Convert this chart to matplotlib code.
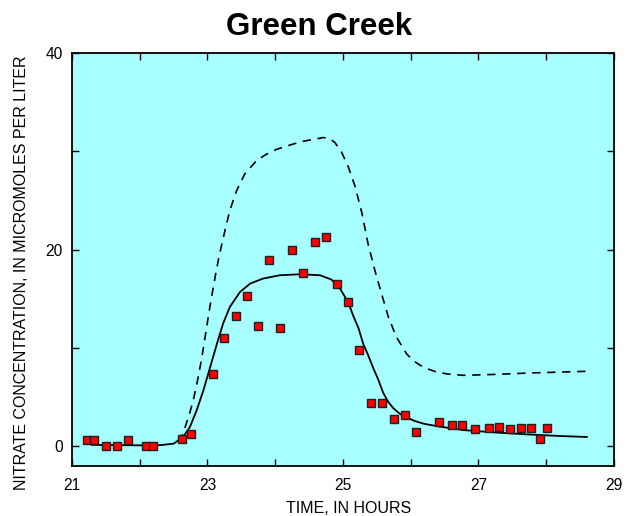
import matplotlib
matplotlib.use("Agg")
import matplotlib.pyplot as plt

plt.rcParams['font.family'] = ['Liberation Sans', 'DejaVu Sans']

# measured nitrate, in micromoles per liter
obs_time = [21.22, 21.33, 21.50, 21.67, 21.83, 22.09, 22.19, 22.62, 22.75,
            23.08, 23.24, 23.42, 23.58, 23.75, 23.91, 24.07, 24.25, 24.41,
            24.58, 24.75, 24.91, 25.08, 25.24, 25.41, 25.58, 25.75, 25.92,
            26.08, 26.42, 26.61, 26.76, 26.95, 27.15, 27.31, 27.46, 27.63,
            27.78, 27.91, 28.01]
obs_conc = [0.6, 0.6, 0.0, 0.0, 0.6, 0.0, 0.0, 0.7, 1.3,
            7.4, 11.0, 13.3, 15.3, 12.2, 18.9, 12.0, 20.0, 17.6,
            20.8, 21.3, 16.5, 14.7, 9.8, 4.4, 4.4, 2.8, 3.2,
            1.5, 2.5, 2.2, 2.2, 1.8, 1.9, 2.0, 1.8, 1.9,
            1.9, 0.7, 1.9]

# simulated (solid line)
sim_time = [21.29, 21.7, 22.0, 22.30, 22.50, 22.64, 22.74, 22.84, 22.94, 23.04,
            23.14, 23.23, 23.33, 23.48, 23.63, 23.82, 24.07, 24.37, 24.66,
            24.83, 24.96, 25.08, 25.15, 25.23, 25.30, 25.37, 25.45, 25.52,
            25.59, 25.66, 25.74, 25.84, 25.94, 26.05, 26.19, 26.43, 26.78,
            27.27, 27.76, 28.2, 28.6]
sim_conc = [0.15, 0.12, 0.1, 0.12, 0.27, 0.95, 1.96, 3.66, 5.7, 8.07,
            10.44, 12.48, 14.17, 15.7, 16.55, 17.06, 17.4, 17.5, 17.4,
            16.96, 16.0, 14.6, 13.3, 12.0, 10.4, 9.3, 7.9, 6.8,
            5.5, 4.6, 3.9, 3.3, 2.95, 2.6, 2.3, 2.0, 1.65,
            1.4, 1.2, 1.05, 0.95]

# dashed line
dash_time = [22.59, 22.67, 22.73, 22.79, 22.85, 22.91, 22.96, 23.01, 23.05,
             23.09, 23.13, 23.18, 23.26, 23.33, 23.43, 23.55, 23.73, 23.87,
             24.02, 24.2, 24.37, 24.55, 24.71, 24.80, 24.88, 24.98, 25.08,
             25.18, 25.28, 25.37, 25.47, 25.57, 25.67, 25.79, 25.94, 26.04,
             26.14, 26.26, 26.38, 26.55, 26.78, 27.27, 27.76, 28.6]
dash_conc = [0.44, 1.96, 3.2, 4.68, 6.6, 8.75, 10.9, 13.1, 14.8,
             16.3, 17.9, 19.6, 22.0, 24.0, 26.0, 27.7, 29.1, 29.7,
             30.2, 30.6, 30.96, 31.2, 31.4, 31.3, 30.9, 29.9, 28.4,
             26.4, 23.7, 20.6, 17.9, 15.5, 13.15, 11.1, 9.4, 8.7,
             8.24, 7.85, 7.56, 7.35, 7.22, 7.32, 7.46, 7.63]

fig = plt.figure(figsize=(6.31, 5.16), dpi=100)
ax = fig.add_axes([0.1141, 0.0969, 0.8589, 0.8004])
ax.set_facecolor('#a8ffff')

ax.plot(dash_time, dash_conc, color='black', lw=1.2, ls=(0, (5, 4)))
ax.plot(sim_time, sim_conc, color='black', lw=1.3)
ax.plot(obs_time, obs_conc, ls='none', marker='s', ms=6.3,
        mfc='#ff0000', mec='#202020', mew=1.0)

ax.set_xlim(21, 29)
ax.set_ylim(-2, 40)
ax.set_xticks([21, 23, 25, 27, 29])
ax.set_xticks([22, 24, 26, 28], minor=True)
ax.set_yticks([0, 20, 40])
ax.set_yticks([10, 30], minor=True)
ax.tick_params(which='both', direction='in', top=True, right=True,
               labelsize=11.2, width=1, length=5)
ax.tick_params(axis='x', pad=8.5)
ax.tick_params(axis='y', pad=6.5)
for s in ax.spines.values():
    s.set_linewidth(1.3)

ax.set_xlabel('TIME, IN HOURS', fontsize=11.5, va='center')
ax.xaxis.set_label_coords((349 - 72) / 542, (466 - 508) / 413)
ax.set_ylabel('NITRATE CONCENTRATION, IN MICROMOLES PER LITER',
              fontsize=11.5, va='center')
ax.yaxis.set_label_coords((21 - 72) / 542, 0.4685)
fig.text(319 / 631, 1 - 27 / 516, 'Green Creek', fontsize=22.5,
         fontweight='bold', ha='center', va='center')

fig.savefig('out.png', dpi=100)
